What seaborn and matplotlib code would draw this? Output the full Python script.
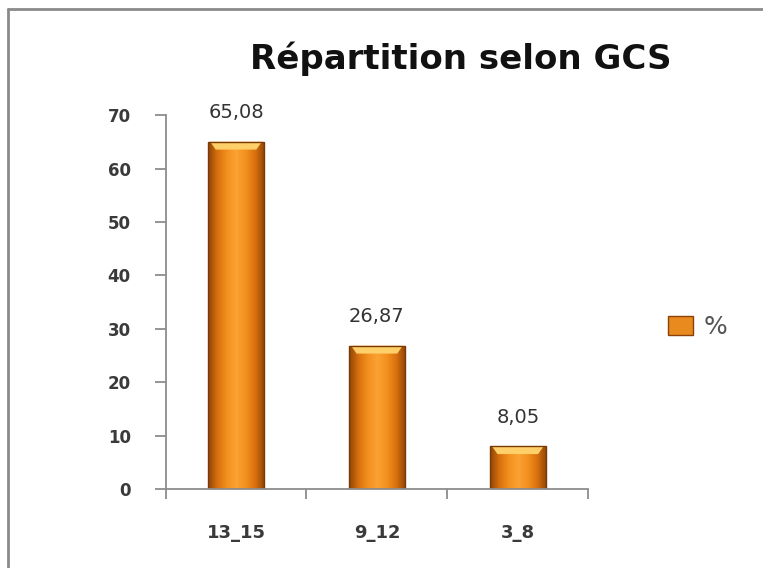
import matplotlib.pyplot as plt
import matplotlib.lines as mlines
import matplotlib.patches as mpatches
import numpy as np
import pandas as pd
import seaborn as sns

categories = ["13_15", "9_12", "3_8"]
values = [65.08, 26.87, 8.05]
value_labels = ["65,08", "26,87", "8,05"]
y_ticks = [0, 10, 20, 30, 40, 50, 60, 70]
series_name = "%"

sns.set_style("white")
plt.rcParams["font.family"] = ["DejaVu Sans"]

# horizontal gradient used to fake the Excel bevelled orange bar
bar_cmap = plt.matplotlib.colors.LinearSegmentedColormap.from_list(
    "bevel", ["#8e4406", "#d8700e", "#f3901e", "#faa233", "#f3901e", "#d8700e", "#8e4406"]
)
grad = np.linspace(0, 1, 256).reshape(1, -1)


def paint_gradient(ax, patch):
    x0, y0 = patch.get_x(), patch.get_y()
    w, h = patch.get_width(), patch.get_height()
    im = ax.imshow(grad, cmap=bar_cmap, aspect="auto", extent=(x0, x0 + w, y0, y0 + h),
                   zorder=patch.get_zorder() + 0.1, interpolation="bicubic")
    im.set_clip_path(patch)
    # lighter bevel on top
    top = min(h * 0.3, 1.5)
    bevel = mpatches.Polygon([(x0 + w * 0.04, y0 + h), (x0 + w * 0.96, y0 + h),
                              (x0 + w * 0.86, y0 + h - top), (x0 + w * 0.14, y0 + h - top)],
                             closed=True, color="#ffd069", lw=0, zorder=patch.get_zorder() + 0.2)
    ax.add_patch(bevel)
    ax.add_patch(mpatches.Rectangle((x0, y0), w, h, fill=False, ec="#7a3a05",
                                    lw=1.0, zorder=patch.get_zorder() + 0.3))


def main():
    df = pd.DataFrame({"GCS": categories, "pct": values})

    fig = plt.figure(figsize=(7.63, 5.68), dpi=100)
    fig.patch.set_facecolor("white")
    ax = fig.add_axes([0.217, 0.139, 0.554, 0.658])

    sns.barplot(data=df, x="GCS", y="pct", color="#f09020", width=0.4, ax=ax,
                saturation=1, label=series_name)
    bars = ax.patches[: len(categories)]
    for p in bars:
        paint_gradient(ax, p)

    ax.set_xlim(-0.5, len(categories) - 0.5)
    ax.set_ylim(0, 70)
    ax.set_yticks(y_ticks)
    ax.set_xlabel("")
    ax.set_ylabel("")

    # Excel style axes: only left and bottom lines, ticks outside
    for s in ["top", "right"]:
        ax.spines[s].set_visible(False)
    for s in ["left", "bottom"]:
        ax.spines[s].set_color("#8c8c8c")
        ax.spines[s].set_linewidth(1.3)
    ax.tick_params(axis="y", length=8, width=1.3, color="#8c8c8c", direction="out",
                   left=True, labelsize=12, labelcolor="#3a3a3a", pad=17)
    ax.set_xticks([i - 0.5 for i in range(len(categories) + 1)], minor=True)
    ax.tick_params(axis="x", which="minor", length=7, width=1.3, color="#8c8c8c",
                   direction="out", bottom=True)
    ax.tick_params(axis="x", which="major", length=0, labelsize=13,
                   labelcolor="#3a3a3a", pad=25)
    for lbl in ax.get_xticklabels() + ax.get_yticklabels():
        lbl.set_fontweight("bold")

    ax.bar_label(ax.containers[0], labels=value_labels, padding=14, fontsize=14,
                 color="#333333")

    fig.text(0.604, 0.8785, "Répartition selon GCS", ha="center", va="baseline",
             fontsize=24.5, fontweight="bold", color="#111111")

    # legend
    handle = mpatches.Patch(facecolor="#e88a1e", edgecolor="#8a4208", lw=1.0)
    leg = ax.legend([handle], [series_name], loc="center left",
                    bbox_to_anchor=(1.189, 0.433), frameon=False, fontsize=18,
                    handlelength=1.0, handleheight=0.8, handletextpad=0.4,
                    borderpad=0, borderaxespad=0)
    for t in leg.get_texts():
        t.set_color("#555555")

    # picture frame (top and left edges)
    fig.add_artist(mlines.Line2D([0.011, 1.0], [0.984, 0.984], color="#8a8a8a", lw=2.0))
    fig.add_artist(mlines.Line2D([0.011, 0.011], [0.0, 0.984], color="#8a8a8a", lw=2.0))

    fig.savefig("out.png", dpi=100)
    plt.close(fig)


if __name__ == "__main__":
    main()
